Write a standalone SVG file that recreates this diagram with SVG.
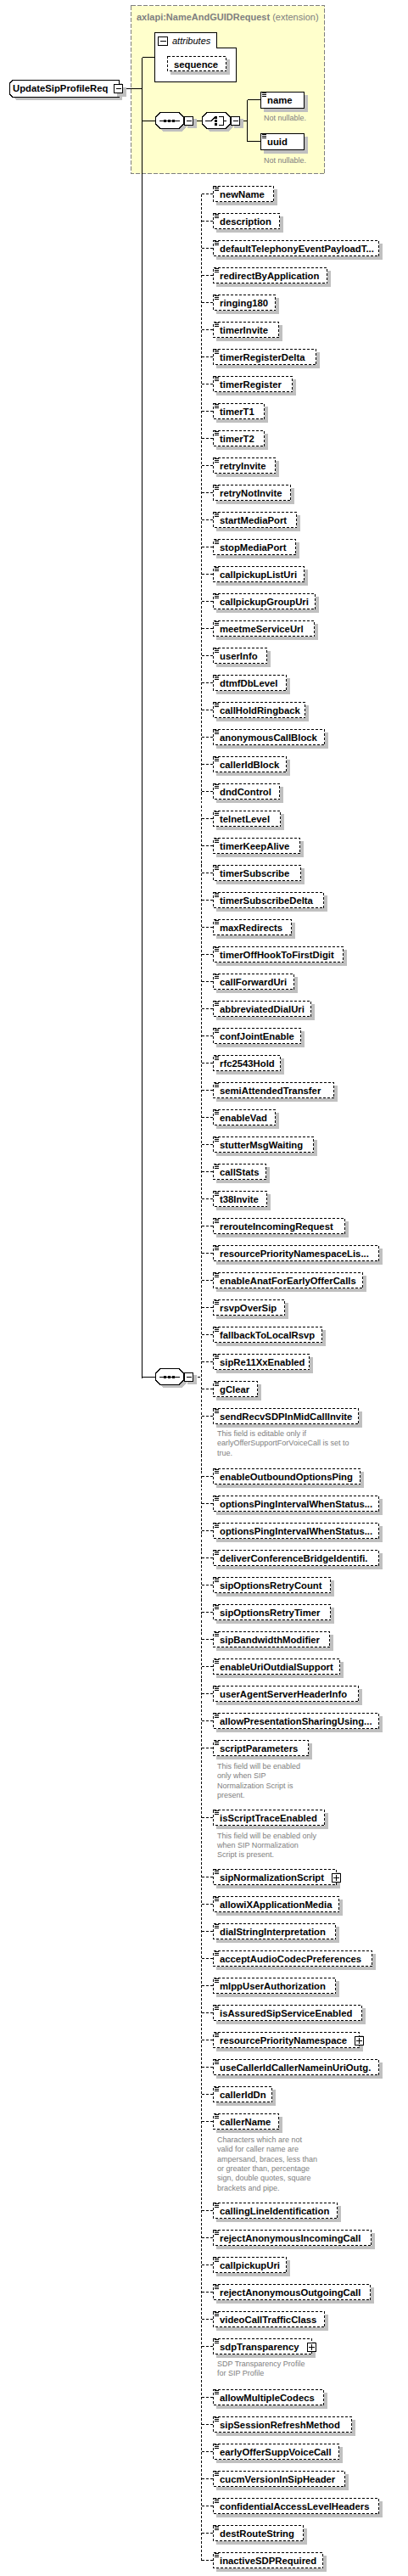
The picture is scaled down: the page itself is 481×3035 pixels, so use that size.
<svg xmlns="http://www.w3.org/2000/svg" xmlns:xlink="http://www.w3.org/1999/xlink" width="481" height="3035" viewBox="0 0 481 3035" shape-rendering="crispEdges">
<style>
.sh{fill:#c0c0c0}
.bx{fill:#fff;stroke:#000;stroke-dasharray:3,2}
.bs{fill:#fff;stroke:#000}
.t{font-family:"Liberation Sans",Arial,sans-serif;font-weight:bold;font-size:11.3px;fill:#000}
.a{font-family:"Liberation Sans",Arial,sans-serif;font-size:9px;fill:#808080}
.dc{stroke:#000;stroke-dasharray:3,2;fill:none}
.sc{stroke:#000;fill:none}
.pm{fill:#fff;stroke:#000}
</style>
<defs>
<path id="ic" d="M0,0.5h5M0,2.5h5M0,4.5h5" stroke="#000" fill="none"/>
<g id="oct">
<polygon class="sh" points="9,3 31,3 37,9 37,17 31,23 9,23 3,17 3,9"/>
<polygon class="bs" points="6,0.5 28,0.5 33.5,6 33.5,14 28,19.5 6,19.5 0.5,14 0.5,6"/>
<rect class="sh" x="38" y="8" width="11" height="11"/>
<rect class="pm" x="34.5" y="5.5" width="10" height="10"/>
<path class="sc" d="M37,10.5H43"/>
</g>
<g id="seqc">
<use href="#oct"/>
<path class="sc" d="M5,10.5H29"/>
<rect x="10" y="9" width="3" height="3"/><rect x="15" y="9" width="3" height="3"/><rect x="20" y="9" width="3" height="3"/>
</g>
<g id="chc">
<use href="#oct"/>
<path class="sc" d="M4,10.5H11L16,5.5M20,5.5H25.5V15.5H20M25.5,10.5H29"/>
<rect x="15" y="5" width="3" height="3"/><rect x="15" y="9" width="3" height="3"/><rect x="15" y="13" width="3" height="3"/>
</g>
</defs>

<g id="ext">
<rect x="154.5" y="6.5" width="228" height="198" fill="#ffffcc" stroke="#808080" stroke-dasharray="5,2"/>
<text x="161" y="23.5" font-family="Liberation Sans, Arial, sans-serif" font-size="11px" fill="#808080"><tspan font-weight="bold">axlapi:NameAndGUIDRequest</tspan> (extension)</text>
</g>

<g id="connectors">
<path class="sc" d="M145,104.5H167.5M167.5,67.5V1623.5M167.5,67.5H182M167.5,142.5H183M167.5,1622.5H183M228,142.5H238M283,142.5H291.5M291.5,117.5V166.5M291.5,117.5H307M291.5,166.5H307"/>
<path class="dc" d="M228,1622.5H237.5M237.5,228.5V3016.5"/>
<path class="dc" d="M237.5,228.5H251M237.5,260.5H251M237.5,292.5H251M237.5,324.5H251M237.5,356.5H251M237.5,388.5H251M237.5,420.5H251M237.5,452.5H251M237.5,484.5H251M237.5,516.5H251M237.5,548.5H251M237.5,580.5H251M237.5,612.5H251M237.5,644.5H251M237.5,676.5H251M237.5,708.5H251M237.5,740.5H251M237.5,772.5H251M237.5,804.5H251M237.5,836.5H251M237.5,868.5H251M237.5,900.5H251M237.5,932.5H251M237.5,964.5H251M237.5,996.5H251M237.5,1028.5H251M237.5,1060.5H251M237.5,1092.5H251M237.5,1124.5H251M237.5,1156.5H251M237.5,1188.5H251M237.5,1220.5H251M237.5,1252.5H251M237.5,1284.5H251M237.5,1316.5H251M237.5,1348.5H251M237.5,1380.5H251M237.5,1412.5H251M237.5,1444.5H251M237.5,1476.5H251M237.5,1508.5H251M237.5,1540.5H251M237.5,1572.5H251M237.5,1604.5H251M237.5,1636.5H251M237.5,1668.5H251M237.5,1739.5H251M237.5,1771.5H251M237.5,1803.5H251M237.5,1835.5H251M237.5,1867.5H251M237.5,1899.5H251M237.5,1931.5H251M237.5,1963.5H251M237.5,1995.5H251M237.5,2027.5H251M237.5,2059.5H251M237.5,2141.5H251M237.5,2211.5H251M237.5,2243.5H251M237.5,2275.5H251M237.5,2307.5H251M237.5,2339.5H251M237.5,2371.5H251M237.5,2403.5H251M237.5,2435.5H251M237.5,2467.5H251M237.5,2499.5H251M237.5,2604.5H251M237.5,2636.5H251M237.5,2668.5H251M237.5,2700.5H251M237.5,2732.5H251M237.5,2764.5H251M237.5,2824.5H251M237.5,2856.5H251M237.5,2888.5H251M237.5,2920.5H251M237.5,2952.5H251M237.5,2984.5H251M237.5,3016.5H251"/>
</g>

<g id="root">
<polygon class="sh" points="19,98 144,98 144,118 19,118 15,114 15,102"/>
<polygon class="bs" points="15,94.5 140.5,94.5 140.5,114.5 15,114.5 11.5,111 11.5,98"/>
<text class="t" x="15" y="108">UpdateSipProfileReq</text>
<rect class="sh" x="138" y="103" width="11" height="11"/>
<rect class="pm" x="134.5" y="99.5" width="10" height="10"/>
<path class="sc" d="M137,104.5H143"/>
</g>

<g id="attributes">
<polygon class="bs" points="182.5,38.5 255.5,38.5 255.5,56.5 278.5,56.5 278.5,96.5 182.5,96.5"/>
<rect class="pm" x="186.5" y="43.5" width="11" height="10"/>
<path class="sc" d="M188.5,48.5H196"/>
<text x="203" y="52" font-family="Liberation Sans, Arial, sans-serif" font-size="11px" font-style="italic">attributes</text>
<rect class="sh" x="201" y="70" width="70" height="18"/>
<rect class="bx" x="197.5" y="66.5" width="69" height="17"/>
<text class="t" x="205" y="80">sequence</text>
</g>

<g id="seq1"><use href="#seqc" x="183" y="132"/></g>
<g id="choice1"><use href="#chc" x="238" y="132"/></g>

<g id="name">
<rect class="sh" x="311" y="112" width="52" height="20"/>
<rect class="bs" x="307.5" y="108.5" width="51" height="19"/>
<use href="#ic" x="309" y="109"/>
<text class="t" x="315" y="122">name</text>
<text class="a" x="311" y="142">Not nullable.</text>
</g>
<g id="uuid">
<rect class="sh" x="311" y="161" width="52" height="20"/>
<rect class="bs" x="307.5" y="157.5" width="51" height="19"/>
<use href="#ic" x="309" y="158"/>
<text class="t" x="315" y="171">uuid</text>
<text class="a" x="311" y="192">Not nullable.</text>
</g>

<g id="seq2"><use href="#seqc" x="183" y="1612"/></g>

<g id="n00"><rect class="sh" x="255" y="223" width="72" height="19"/><rect class="bx" x="251.5" y="219.5" width="71" height="18"/><use href="#ic" x="253" y="220"/><text class="t" x="259" y="233">newName</text></g>
<g id="n01"><rect class="sh" x="255" y="255" width="79" height="19"/><rect class="bx" x="251.5" y="251.5" width="78" height="18"/><use href="#ic" x="253" y="252"/><text class="t" x="259" y="265">description</text></g>
<g id="n02"><rect class="sh" x="255" y="287" width="196" height="19"/><rect class="bx" x="251.5" y="283.5" width="195" height="18"/><use href="#ic" x="253" y="284"/><text class="t" x="259" y="297">defaultTelephonyEventPayloadT...</text></g>
<g id="n03"><rect class="sh" x="255" y="319" width="135" height="19"/><rect class="bx" x="251.5" y="315.5" width="134" height="18"/><use href="#ic" x="253" y="316"/><text class="t" x="259" y="329">redirectByApplication</text></g>
<g id="n04"><rect class="sh" x="255" y="351" width="74" height="19"/><rect class="bx" x="251.5" y="347.5" width="73" height="18"/><use href="#ic" x="253" y="348"/><text class="t" x="259" y="361">ringing180</text></g>
<g id="n05"><rect class="sh" x="255" y="383" width="78" height="19"/><rect class="bx" x="251.5" y="379.5" width="77" height="18"/><use href="#ic" x="253" y="380"/><text class="t" x="259" y="393">timerInvite</text></g>
<g id="n06"><rect class="sh" x="255" y="415" width="122" height="19"/><rect class="bx" x="251.5" y="411.5" width="121" height="18"/><use href="#ic" x="253" y="412"/><text class="t" x="259" y="425">timerRegisterDelta</text></g>
<g id="n07"><rect class="sh" x="255" y="447" width="94" height="19"/><rect class="bx" x="251.5" y="443.5" width="93" height="18"/><use href="#ic" x="253" y="444"/><text class="t" x="259" y="457">timerRegister</text></g>
<g id="n08"><rect class="sh" x="255" y="479" width="61" height="19"/><rect class="bx" x="251.5" y="475.5" width="60" height="18"/><use href="#ic" x="253" y="476"/><text class="t" x="259" y="489">timerT1</text></g>
<g id="n09"><rect class="sh" x="255" y="511" width="61" height="19"/><rect class="bx" x="251.5" y="507.5" width="60" height="18"/><use href="#ic" x="253" y="508"/><text class="t" x="259" y="521">timerT2</text></g>
<g id="n10"><rect class="sh" x="255" y="543" width="74" height="19"/><rect class="bx" x="251.5" y="539.5" width="73" height="18"/><use href="#ic" x="253" y="540"/><text class="t" x="259" y="553">retryInvite</text></g>
<g id="n11"><rect class="sh" x="255" y="575" width="92" height="19"/><rect class="bx" x="251.5" y="571.5" width="91" height="18"/><use href="#ic" x="253" y="572"/><text class="t" x="259" y="585">retryNotInvite</text></g>
<g id="n12"><rect class="sh" x="255" y="607" width="99" height="19"/><rect class="bx" x="251.5" y="603.5" width="98" height="18"/><use href="#ic" x="253" y="604"/><text class="t" x="259" y="617">startMediaPort</text></g>
<g id="n13"><rect class="sh" x="255" y="639" width="98" height="19"/><rect class="bx" x="251.5" y="635.5" width="97" height="18"/><use href="#ic" x="253" y="636"/><text class="t" x="259" y="649">stopMediaPort</text></g>
<g id="n14"><rect class="sh" x="255" y="671" width="108" height="19"/><rect class="bx" x="251.5" y="667.5" width="107" height="18"/><use href="#ic" x="253" y="668"/><text class="t" x="259" y="681">callpickupListUri</text></g>
<g id="n15"><rect class="sh" x="255" y="703" width="121" height="19"/><rect class="bx" x="251.5" y="699.5" width="120" height="18"/><use href="#ic" x="253" y="700"/><text class="t" x="259" y="713">callpickupGroupUri</text></g>
<g id="n16"><rect class="sh" x="255" y="735" width="120" height="19"/><rect class="bx" x="251.5" y="731.5" width="119" height="18"/><use href="#ic" x="253" y="732"/><text class="t" x="259" y="745">meetmeServiceUrl</text></g>
<g id="n17"><rect class="sh" x="255" y="767" width="64" height="19"/><rect class="bx" x="251.5" y="763.5" width="63" height="18"/><use href="#ic" x="253" y="764"/><text class="t" x="259" y="777">userInfo</text></g>
<g id="n18"><rect class="sh" x="255" y="799" width="87" height="19"/><rect class="bx" x="251.5" y="795.5" width="86" height="18"/><use href="#ic" x="253" y="796"/><text class="t" x="259" y="809">dtmfDbLevel</text></g>
<g id="n19"><rect class="sh" x="255" y="831" width="109" height="19"/><rect class="bx" x="251.5" y="827.5" width="108" height="18"/><use href="#ic" x="253" y="828"/><text class="t" x="259" y="841">callHoldRingback</text></g>
<g id="n20"><rect class="sh" x="255" y="863" width="132" height="19"/><rect class="bx" x="251.5" y="859.5" width="131" height="18"/><use href="#ic" x="253" y="860"/><text class="t" x="259" y="873">anonymousCallBlock</text></g>
<g id="n21"><rect class="sh" x="255" y="895" width="87" height="19"/><rect class="bx" x="251.5" y="891.5" width="86" height="18"/><use href="#ic" x="253" y="892"/><text class="t" x="259" y="905">callerIdBlock</text></g>
<g id="n22"><rect class="sh" x="255" y="927" width="79" height="19"/><rect class="bx" x="251.5" y="923.5" width="78" height="18"/><use href="#ic" x="253" y="924"/><text class="t" x="259" y="937">dndControl</text></g>
<g id="n23"><rect class="sh" x="255" y="959" width="80" height="19"/><rect class="bx" x="251.5" y="955.5" width="79" height="18"/><use href="#ic" x="253" y="956"/><text class="t" x="259" y="969">telnetLevel</text></g>
<g id="n24"><rect class="sh" x="255" y="991" width="103" height="19"/><rect class="bx" x="251.5" y="987.5" width="102" height="18"/><use href="#ic" x="253" y="988"/><text class="t" x="259" y="1001">timerKeepAlive</text></g>
<g id="n25"><rect class="sh" x="255" y="1023" width="104" height="19"/><rect class="bx" x="251.5" y="1019.5" width="103" height="18"/><use href="#ic" x="253" y="1020"/><text class="t" x="259" y="1033">timerSubscribe</text></g>
<g id="n26"><rect class="sh" x="255" y="1055" width="131" height="19"/><rect class="bx" x="251.5" y="1051.5" width="130" height="18"/><use href="#ic" x="253" y="1052"/><text class="t" x="259" y="1065">timerSubscribeDelta</text></g>
<g id="n27"><rect class="sh" x="255" y="1087" width="93" height="19"/><rect class="bx" x="251.5" y="1083.5" width="92" height="18"/><use href="#ic" x="253" y="1084"/><text class="t" x="259" y="1097">maxRedirects</text></g>
<g id="n28"><rect class="sh" x="255" y="1119" width="154" height="19"/><rect class="bx" x="251.5" y="1115.5" width="153" height="18"/><use href="#ic" x="253" y="1116"/><text class="t" x="259" y="1129">timerOffHookToFirstDigit</text></g>
<g id="n29"><rect class="sh" x="255" y="1151" width="96" height="19"/><rect class="bx" x="251.5" y="1147.5" width="95" height="18"/><use href="#ic" x="253" y="1148"/><text class="t" x="259" y="1161">callForwardUri</text></g>
<g id="n30"><rect class="sh" x="255" y="1183" width="116" height="19"/><rect class="bx" x="251.5" y="1179.5" width="115" height="18"/><use href="#ic" x="253" y="1180"/><text class="t" x="259" y="1193">abbreviatedDialUri</text></g>
<g id="n31"><rect class="sh" x="255" y="1215" width="104" height="19"/><rect class="bx" x="251.5" y="1211.5" width="103" height="18"/><use href="#ic" x="253" y="1212"/><text class="t" x="259" y="1225">confJointEnable</text></g>
<g id="n32"><rect class="sh" x="255" y="1247" width="80" height="19"/><rect class="bx" x="251.5" y="1243.5" width="79" height="18"/><use href="#ic" x="253" y="1244"/><text class="t" x="259" y="1257">rfc2543Hold</text></g>
<g id="n33"><rect class="sh" x="255" y="1279" width="143" height="19"/><rect class="bx" x="251.5" y="1275.5" width="142" height="18"/><use href="#ic" x="253" y="1276"/><text class="t" x="259" y="1289">semiAttendedTransfer</text></g>
<g id="n34"><rect class="sh" x="255" y="1311" width="74" height="19"/><rect class="bx" x="251.5" y="1307.5" width="73" height="18"/><use href="#ic" x="253" y="1308"/><text class="t" x="259" y="1321">enableVad</text></g>
<g id="n35"><rect class="sh" x="255" y="1343" width="119" height="19"/><rect class="bx" x="251.5" y="1339.5" width="118" height="18"/><use href="#ic" x="253" y="1340"/><text class="t" x="259" y="1353">stutterMsgWaiting</text></g>
<g id="n36"><rect class="sh" x="255" y="1375" width="63" height="19"/><rect class="bx" x="251.5" y="1371.5" width="62" height="18"/><use href="#ic" x="253" y="1372"/><text class="t" x="259" y="1385">callStats</text></g>
<g id="n37"><rect class="sh" x="255" y="1407" width="64" height="19"/><rect class="bx" x="251.5" y="1403.5" width="63" height="18"/><use href="#ic" x="253" y="1404"/><text class="t" x="259" y="1417">t38Invite</text></g>
<g id="n38"><rect class="sh" x="255" y="1439" width="156" height="19"/><rect class="bx" x="251.5" y="1435.5" width="155" height="18"/><use href="#ic" x="253" y="1436"/><text class="t" x="259" y="1449">rerouteIncomingRequest</text></g>
<g id="n39"><rect class="sh" x="255" y="1471" width="196" height="19"/><rect class="bx" x="251.5" y="1467.5" width="195" height="18"/><use href="#ic" x="253" y="1468"/><text class="t" x="259" y="1481">resourcePriorityNamespaceLis...</text></g>
<g id="n40"><rect class="sh" x="255" y="1503" width="177" height="19"/><rect class="bx" x="251.5" y="1499.5" width="176" height="18"/><use href="#ic" x="253" y="1500"/><text class="t" x="259" y="1513">enableAnatForEarlyOfferCalls</text></g>
<g id="n41"><rect class="sh" x="255" y="1535" width="85" height="19"/><rect class="bx" x="251.5" y="1531.5" width="84" height="18"/><use href="#ic" x="253" y="1532"/><text class="t" x="259" y="1545">rsvpOverSip</text></g>
<g id="n42"><rect class="sh" x="255" y="1567" width="129" height="19"/><rect class="bx" x="251.5" y="1563.5" width="128" height="18"/><use href="#ic" x="253" y="1564"/><text class="t" x="259" y="1577">fallbackToLocalRsvp</text></g>
<g id="n43"><rect class="sh" x="255" y="1599" width="114" height="19"/><rect class="bx" x="251.5" y="1595.5" width="113" height="18"/><use href="#ic" x="253" y="1596"/><text class="t" x="259" y="1609">sipRe11XxEnabled</text></g>
<g id="n44"><rect class="sh" x="255" y="1631" width="53" height="19"/><rect class="bx" x="251.5" y="1627.5" width="52" height="18"/><use href="#ic" x="253" y="1628"/><text class="t" x="259" y="1641">gClear</text></g>
<g id="n45"><rect class="sh" x="255" y="1663" width="172" height="19"/><rect class="bx" x="251.5" y="1659.5" width="171" height="18"/><use href="#ic" x="253" y="1660"/><text class="t" x="259" y="1673">sendRecvSDPInMidCallInvite</text>
<text class="a" x="256" y="1692">This field is editable only if</text><text class="a" x="256" y="1703.3">earlyOfferSupportForVoiceCall is set to</text><text class="a" x="256" y="1714.6">true.</text></g>
<g id="n46"><rect class="sh" x="255" y="1734" width="174" height="19"/><rect class="bx" x="251.5" y="1730.5" width="173" height="18"/><use href="#ic" x="253" y="1731"/><text class="t" x="259" y="1744">enableOutboundOptionsPing</text></g>
<g id="n47"><rect class="sh" x="255" y="1766" width="196" height="19"/><rect class="bx" x="251.5" y="1762.5" width="195" height="18"/><use href="#ic" x="253" y="1763"/><text class="t" x="259" y="1776">optionsPingIntervalWhenStatus...</text></g>
<g id="n48"><rect class="sh" x="255" y="1798" width="196" height="19"/><rect class="bx" x="251.5" y="1794.5" width="195" height="18"/><use href="#ic" x="253" y="1795"/><text class="t" x="259" y="1808">optionsPingIntervalWhenStatus...</text></g>
<g id="n49"><rect class="sh" x="255" y="1830" width="196" height="19"/><rect class="bx" x="251.5" y="1826.5" width="195" height="18"/><use href="#ic" x="253" y="1827"/><text class="t" x="259" y="1840">deliverConferenceBridgeIdentifi.</text></g>
<g id="n50"><rect class="sh" x="255" y="1862" width="139" height="19"/><rect class="bx" x="251.5" y="1858.5" width="138" height="18"/><use href="#ic" x="253" y="1859"/><text class="t" x="259" y="1872">sipOptionsRetryCount</text></g>
<g id="n51"><rect class="sh" x="255" y="1894" width="139" height="19"/><rect class="bx" x="251.5" y="1890.5" width="138" height="18"/><use href="#ic" x="253" y="1891"/><text class="t" x="259" y="1904">sipOptionsRetryTimer</text></g>
<g id="n52"><rect class="sh" x="255" y="1926" width="138" height="19"/><rect class="bx" x="251.5" y="1922.5" width="137" height="18"/><use href="#ic" x="253" y="1923"/><text class="t" x="259" y="1936">sipBandwidthModifier</text></g>
<g id="n53"><rect class="sh" x="255" y="1958" width="150" height="19"/><rect class="bx" x="251.5" y="1954.5" width="149" height="18"/><use href="#ic" x="253" y="1955"/><text class="t" x="259" y="1968">enableUriOutdialSupport</text></g>
<g id="n54"><rect class="sh" x="255" y="1990" width="172" height="19"/><rect class="bx" x="251.5" y="1986.5" width="171" height="18"/><use href="#ic" x="253" y="1987"/><text class="t" x="259" y="2000">userAgentServerHeaderInfo</text></g>
<g id="n55"><rect class="sh" x="255" y="2022" width="196" height="19"/><rect class="bx" x="251.5" y="2018.5" width="195" height="18"/><use href="#ic" x="253" y="2019"/><text class="t" x="259" y="2032">allowPresentationSharingUsing...</text></g>
<g id="n56"><rect class="sh" x="255" y="2054" width="113" height="19"/><rect class="bx" x="251.5" y="2050.5" width="112" height="18"/><use href="#ic" x="253" y="2051"/><text class="t" x="259" y="2064">scriptParameters</text>
<text class="a" x="256" y="2084">This field will be enabled</text><text class="a" x="256" y="2095.3">only when SIP</text><text class="a" x="256" y="2106.6">Normalization Script is</text><text class="a" x="256" y="2118">present.</text></g>
<g id="n57"><rect class="sh" x="255" y="2136" width="132" height="19"/><rect class="bx" x="251.5" y="2132.5" width="131" height="18"/><use href="#ic" x="253" y="2133"/><text class="t" x="259" y="2146">isScriptTraceEnabled</text>
<text class="a" x="256" y="2165.5">This field will be enabled only</text><text class="a" x="256" y="2176.8">when SIP Normalization</text><text class="a" x="256" y="2188">Script is present.</text></g>
<g id="n58"><rect class="sh" x="255" y="2206" width="146" height="19"/><rect class="bx" x="251.5" y="2202.5" width="145" height="18"/><use href="#ic" x="253" y="2203"/><text class="t" x="259" y="2216">sipNormalizationScript</text>
<rect class="pm" x="391.5" y="2207.5" width="10" height="10"/><path class="sc" d="M393,2212.5H400M396.5,2209V2216"/></g>
<g id="n59"><rect class="sh" x="255" y="2238" width="149" height="19"/><rect class="bx" x="251.5" y="2234.5" width="148" height="18"/><use href="#ic" x="253" y="2235"/><text class="t" x="259" y="2248">allowiXApplicationMedia</text></g>
<g id="n60"><rect class="sh" x="255" y="2270" width="145" height="19"/><rect class="bx" x="251.5" y="2266.5" width="144" height="18"/><use href="#ic" x="253" y="2267"/><text class="t" x="259" y="2280">dialStringInterpretation</text></g>
<g id="n61"><rect class="sh" x="255" y="2302" width="188" height="19"/><rect class="bx" x="251.5" y="2298.5" width="187" height="18"/><use href="#ic" x="253" y="2299"/><text class="t" x="259" y="2312">acceptAudioCodecPreferences</text></g>
<g id="n62"><rect class="sh" x="255" y="2334" width="145" height="19"/><rect class="bx" x="251.5" y="2330.5" width="144" height="18"/><use href="#ic" x="253" y="2331"/><text class="t" x="259" y="2344">mlppUserAuthorization</text></g>
<g id="n63"><rect class="sh" x="255" y="2366" width="176" height="19"/><rect class="bx" x="251.5" y="2362.5" width="175" height="18"/><use href="#ic" x="253" y="2363"/><text class="t" x="259" y="2376">isAssuredSipServiceEnabled</text></g>
<g id="n64"><rect class="sh" x="255" y="2398" width="173" height="19"/><rect class="bx" x="251.5" y="2394.5" width="172" height="18"/><use href="#ic" x="253" y="2395"/><text class="t" x="259" y="2408">resourcePriorityNamespace</text>
<rect class="pm" x="418.5" y="2399.5" width="10" height="10"/><path class="sc" d="M420,2404.5H427M423.5,2401V2408"/></g>
<g id="n65"><rect class="sh" x="255" y="2430" width="196" height="19"/><rect class="bx" x="251.5" y="2426.5" width="195" height="18"/><use href="#ic" x="253" y="2427"/><text class="t" x="259" y="2440">useCallerIdCallerNameinUriOutg.</text></g>
<g id="n66"><rect class="sh" x="255" y="2462" width="70" height="19"/><rect class="bx" x="251.5" y="2458.5" width="69" height="18"/><use href="#ic" x="253" y="2459"/><text class="t" x="259" y="2472">callerIdDn</text></g>
<g id="n67"><rect class="sh" x="255" y="2494" width="78" height="19"/><rect class="bx" x="251.5" y="2490.5" width="77" height="18"/><use href="#ic" x="253" y="2491"/><text class="t" x="259" y="2504">callerName</text>
<text class="a" x="256" y="2524">Characters which are not</text><text class="a" x="256" y="2535.3">valid for caller name are</text><text class="a" x="256" y="2546.6">ampersand, braces, less than</text><text class="a" x="256" y="2558">or greater than, percentage</text><text class="a" x="256" y="2569.3">sign, double quotes, square</text><text class="a" x="256" y="2580.6">brackets and pipe.</text></g>
<g id="n68"><rect class="sh" x="255" y="2599" width="147" height="19"/><rect class="bx" x="251.5" y="2595.5" width="146" height="18"/><use href="#ic" x="253" y="2596"/><text class="t" x="259" y="2609">callingLineIdentification</text></g>
<g id="n69"><rect class="sh" x="255" y="2631" width="187" height="19"/><rect class="bx" x="251.5" y="2627.5" width="186" height="18"/><use href="#ic" x="253" y="2628"/><text class="t" x="259" y="2641">rejectAnonymousIncomingCall</text></g>
<g id="n70"><rect class="sh" x="255" y="2663" width="87" height="19"/><rect class="bx" x="251.5" y="2659.5" width="86" height="18"/><use href="#ic" x="253" y="2660"/><text class="t" x="259" y="2673">callpickupUri</text></g>
<g id="n71"><rect class="sh" x="255" y="2695" width="186" height="19"/><rect class="bx" x="251.5" y="2691.5" width="185" height="18"/><use href="#ic" x="253" y="2692"/><text class="t" x="259" y="2705">rejectAnonymousOutgoingCall</text></g>
<g id="n72"><rect class="sh" x="255" y="2727" width="132" height="19"/><rect class="bx" x="251.5" y="2723.5" width="131" height="18"/><use href="#ic" x="253" y="2724"/><text class="t" x="259" y="2737">videoCallTrafficClass</text></g>
<g id="n73"><rect class="sh" x="255" y="2759" width="117" height="19"/><rect class="bx" x="251.5" y="2755.5" width="116" height="18"/><use href="#ic" x="253" y="2756"/><text class="t" x="259" y="2769">sdpTransparency</text>
<rect class="pm" x="362.5" y="2760.5" width="10" height="10"/><path class="sc" d="M364,2765.5H371M367.5,2762V2769"/>
<text class="a" x="256" y="2788">SDP Transparency Profile</text><text class="a" x="256" y="2799.3">for SIP Profile</text></g>
<g id="n74"><rect class="sh" x="255" y="2819" width="131" height="19"/><rect class="bx" x="251.5" y="2815.5" width="130" height="18"/><use href="#ic" x="253" y="2816"/><text class="t" x="259" y="2829">allowMultipleCodecs</text></g>
<g id="n75"><rect class="sh" x="255" y="2851" width="164" height="19"/><rect class="bx" x="251.5" y="2847.5" width="163" height="18"/><use href="#ic" x="253" y="2848"/><text class="t" x="259" y="2861">sipSessionRefreshMethod</text></g>
<g id="n76"><rect class="sh" x="255" y="2883" width="149" height="19"/><rect class="bx" x="251.5" y="2879.5" width="148" height="18"/><use href="#ic" x="253" y="2880"/><text class="t" x="259" y="2893">earlyOfferSuppVoiceCall</text></g>
<g id="n77"><rect class="sh" x="255" y="2915" width="156" height="19"/><rect class="bx" x="251.5" y="2911.5" width="155" height="18"/><use href="#ic" x="253" y="2912"/><text class="t" x="259" y="2925">cucmVersionInSipHeader</text></g>
<g id="n78"><rect class="sh" x="255" y="2947" width="196" height="19"/><rect class="bx" x="251.5" y="2943.5" width="195" height="18"/><use href="#ic" x="253" y="2944"/><text class="t" x="259" y="2957">confidentialAccessLevelHeaders</text></g>
<g id="n79"><rect class="sh" x="255" y="2979" width="107" height="19"/><rect class="bx" x="251.5" y="2975.5" width="106" height="18"/><use href="#ic" x="253" y="2976"/><text class="t" x="259" y="2989">destRouteString</text></g>
<g id="n80"><rect class="sh" x="255" y="3011" width="130" height="19"/><rect class="bx" x="251.5" y="3007.5" width="129" height="18"/><use href="#ic" x="253" y="3008"/><text class="t" x="259" y="3021">inactiveSDPRequired</text></g>
</svg>
